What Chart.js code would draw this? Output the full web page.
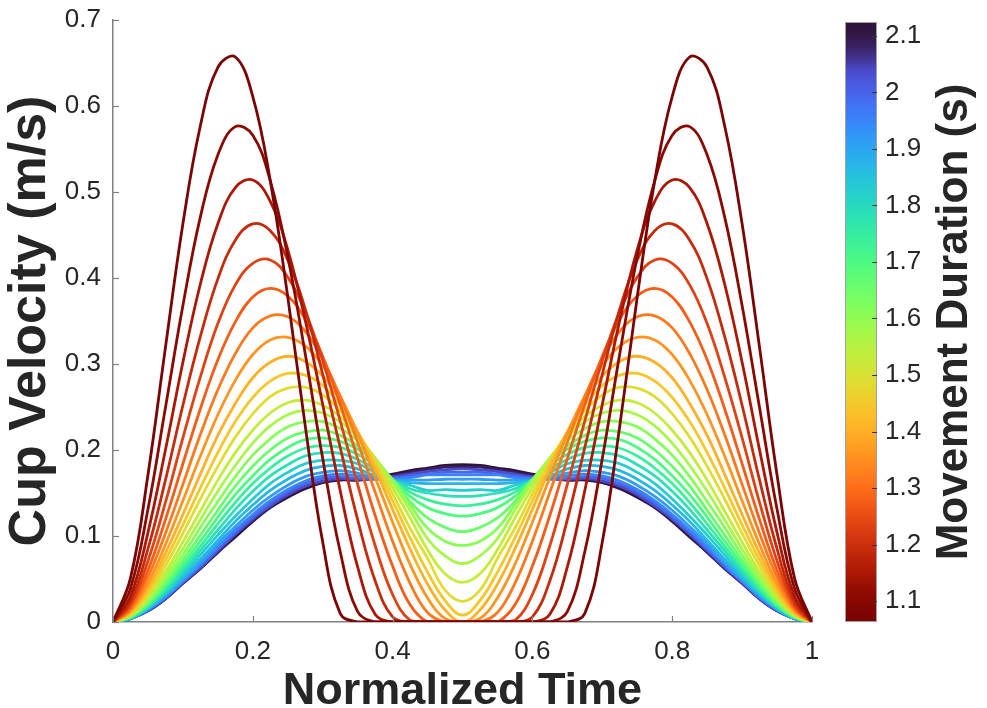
<!DOCTYPE html>
<html>
<head>
<meta charset="utf-8">
<title>Cup velocity profiles</title>
<script src="https://cdn.jsdelivr.net/npm/chart.js@4.4.1/dist/chart.umd.min.js"></script>
<style>
  html, body { margin: 0; padding: 0; background: #fff; }
  #wrap { width: 987px; height: 708px; position: relative; }
</style>
</head>
<body>
<div id="wrap"><canvas id="chart"></canvas></div>
<script>
// normalized time samples shared by every curve
const timeGrid = [0, 0.025, 0.05, 0.075, 0.1, 0.125, 0.15, 0.175, 0.2, 0.225, 0.25, 0.275, 0.3, 0.325, 0.35, 0.375, 0.4, 0.425, 0.45, 0.475, 0.5,
  0.525, 0.55, 0.575, 0.6, 0.625, 0.65, 0.675, 0.7, 0.725, 0.75, 0.775, 0.8, 0.825, 0.85, 0.875, 0.9, 0.925, 0.95, 0.975, 1];

// movement duration (s) of each curve, shortest first
const durations = [1.063, 1.106, 1.148, 1.191, 1.233, 1.276, 1.319, 1.361, 1.404, 1.446, 1.489, 1.532, 1.574,
  1.617, 1.659, 1.702, 1.745, 1.787, 1.830, 1.872, 1.915, 1.958, 2.000, 2.043, 2.085, 2.128];

// cup velocity (m/s), one array per duration
const v1063 = [0,.051,.171,.319,.463,.577,.645,.657,.611,.513,.378,.228,.093,.010,0,0,0,0,0,0,0,0,0,0,0,0,0,.010,.093,.228,.378,.513,.611,.657,.645,.577,.463,.319,.171,.051,0];
const v1106 = [0,.039,.131,.249,.368,.471,.543,.576,.566,.513,.425,.312,.190,.082,.012,0,0,0,0,0,0,0,0,0,0,0,.012,.082,.190,.312,.425,.513,.566,.576,.543,.471,.368,.249,.131,.039,0];
const v1148 = [0,.030,.104,.200,.302,.393,.463,.505,.514,.489,.433,.351,.253,.153,.064,.009,0,0,0,0,0,0,0,0,0,.009,.064,.153,.253,.351,.433,.489,.514,.505,.463,.393,.302,.200,.104,.030,0];
const v1191 = [0,.024,.085,.165,.252,.332,.399,.444,.463,.455,.421,.364,.288,.203,.119,.048,.006,0,0,0,0,0,0,0,.006,.048,.119,.203,.288,.364,.421,.455,.463,.444,.399,.332,.252,.165,.085,.024,0];
const v1233 = [0,.020,.071,.139,.214,.285,.347,.392,.417,.421,.401,.361,.304,.234,.160,.089,.032,.002,0,0,0,0,0,.002,.032,.089,.160,.234,.304,.361,.401,.421,.417,.392,.347,.285,.214,.139,.071,.020,0];
const v1276 = [0,.017,.060,.119,.184,.248,.305,.349,.378,.388,.379,.352,.309,.253,.190,.124,.065,.020,0,0,0,0,0,.020,.065,.124,.190,.253,.309,.352,.379,.388,.378,.349,.305,.248,.184,.119,.060,.017,0];
const v1319 = [0,.015,.052,.103,.160,.218,.270,.312,.342,.356,.355,.338,.306,.262,.209,.151,.094,.045,.011,0,0,0,.011,.045,.094,.151,.209,.262,.306,.338,.355,.356,.342,.312,.270,.218,.160,.103,.052,.015,0];
const v1361 = [0,.013,.045,.090,.141,.193,.241,.281,.311,.328,.331,.321,.298,.263,.219,.168,.116,.067,.028,.004,0,.004,.028,.067,.116,.168,.219,.263,.298,.321,.331,.328,.311,.281,.241,.193,.141,.090,.045,.013,0];
const v1404 = [0,.012,.040,.080,.125,.172,.217,.254,.284,.302,.309,.303,.286,.258,.221,.178,.131,.085,.044,.014,0,.014,.044,.085,.131,.178,.221,.258,.286,.303,.309,.302,.284,.254,.217,.172,.125,.080,.040,.012,0];
const v1446 = [0,.010,.036,.072,.113,.156,.197,.233,.261,.280,.289,.287,.275,.252,.221,.183,.141,.098,.058,.025,.008,.025,.058,.098,.141,.183,.221,.252,.275,.287,.289,.280,.261,.233,.197,.156,.113,.072,.036,.010,0];
const v1489 = [0,.009,.032,.065,.103,.143,.181,.215,.242,.262,.272,.273,.264,.246,.220,.187,.149,.109,.074,.037,.024,.037,.074,.109,.149,.187,.220,.246,.264,.273,.272,.262,.242,.215,.181,.143,.103,.065,.032,.009,0];
const v1532 = [0,.008,.029,.058,.093,.129,.165,.197,.223,.243,.255,.258,.252,.239,.217,.189,.156,.121,.084,.056,.046,.056,.084,.121,.156,.189,.217,.239,.252,.258,.255,.243,.223,.197,.165,.129,.093,.058,.029,.008,0];
const v1574 = [0,.007,.026,.053,.085,.119,.152,.182,.208,.228,.241,.246,.243,.233,.215,.191,.162,.130,.097,.077,.068,.077,.097,.130,.162,.191,.215,.233,.243,.246,.241,.228,.208,.182,.152,.119,.085,.053,.026,.007,0];
const v1617 = [0,.007,.024,.049,.078,.110,.140,.169,.194,.213,.227,.233,.233,.225,.211,.190,.165,.136,.109,.094,.089,.094,.109,.136,.165,.190,.211,.225,.233,.233,.227,.213,.194,.169,.140,.110,.078,.049,.024,.007,0];
const v1659 = [0,.006,.022,.045,.072,.101,.130,.158,.181,.200,.214,.221,.223,.217,.205,.188,.165,.140,.121,.110,.105,.110,.121,.140,.165,.188,.205,.217,.223,.221,.214,.200,.181,.158,.130,.101,.072,.045,.022,.006,0];
const v1702 = [0,.006,.020,.042,.067,.094,.122,.148,.170,.189,.203,.212,.214,.210,.201,.186,.166,.146,.133,.126,.123,.126,.133,.146,.166,.186,.201,.210,.214,.212,.203,.189,.170,.148,.122,.094,.067,.042,.020,.006,0];
const v1745 = [0,.005,.019,.039,.063,.088,.114,.139,.161,.179,.193,.202,.205,.203,.195,.182,.165,.151,.142,.137,.135,.137,.142,.151,.165,.182,.195,.203,.205,.202,.193,.179,.161,.139,.114,.088,.063,.039,.019,.005,0];
const v1787 = [0,.005,.018,.036,.059,.083,.107,.131,.152,.170,.183,.193,.197,.196,.189,.178,.165,.155,.150,.147,.146,.147,.150,.155,.165,.178,.189,.196,.197,.193,.183,.170,.152,.131,.107,.083,.059,.036,.018,.005,0];
const v1830 = [0,.005,.016,.034,.055,.078,.101,.123,.143,.161,.174,.184,.188,.188,.184,.174,.164,.159,.153,.154,.153,.154,.153,.159,.164,.174,.184,.188,.188,.184,.174,.161,.143,.123,.101,.078,.055,.034,.016,.005,0];
const v1872 = [0,.004,.016,.032,.052,.073,.095,.117,.136,.153,.166,.176,.181,.182,.178,.170,.165,.162,.161,.161,.161,.161,.161,.162,.165,.170,.178,.182,.181,.176,.166,.153,.136,.117,.095,.073,.052,.032,.016,.004,0];
const v1915 = [0,.004,.015,.030,.049,.069,.091,.111,.130,.146,.159,.169,.174,.176,.173,.168,.165,.165,.165,.166,.166,.166,.165,.165,.165,.168,.173,.176,.174,.169,.159,.146,.130,.111,.091,.069,.049,.030,.015,.004,0];
const v1958 = [0,.004,.014,.029,.047,.067,.087,.107,.125,.141,.154,.164,.170,.172,.170,.167,.167,.168,.171,.171,.171,.171,.171,.168,.167,.167,.170,.172,.170,.164,.154,.141,.125,.107,.087,.067,.047,.029,.014,.004,0];
const v2000 = [0,.004,.014,.028,.047,.065,.085,.104,.122,.138,.151,.161,.167,.169,.167,.166,.167,.170,.172,.174,.174,.174,.172,.170,.167,.166,.167,.169,.167,.161,.151,.138,.122,.104,.085,.065,.047,.028,.014,.004,0];
const v2043 = [0,.004,.013,.027,.046,.063,.083,.102,.120,.135,.148,.158,.164,.167,.166,.167,.169,.172,.175,.177,.178,.177,.175,.172,.169,.167,.166,.167,.164,.158,.148,.135,.120,.102,.083,.063,.046,.027,.013,.004,0];
const v2085 = [0,.004,.013,.027,.045,.063,.082,.101,.118,.134,.147,.157,.163,.166,.165,.167,.170,.174,.177,.180,.180,.180,.177,.174,.170,.167,.165,.166,.163,.157,.147,.134,.118,.101,.082,.063,.045,.027,.013,.004,0];
const v2128 = [0,.004,.013,.027,.045,.062,.081,.099,.117,.133,.145,.155,.162,.165,.165,.168,.172,.176,.179,.182,.183,.182,.179,.176,.172,.168,.165,.165,.162,.155,.145,.133,.117,.099,.081,.062,.045,.027,.013,.004,0];

const velocities = [v1063, v1106, v1148, v1191, v1233, v1276, v1319, v1361, v1404, v1446, v1489, v1532, v1574,
  v1617, v1659, v1702, v1745, v1787, v1830, v1872, v1915, v1958, v2000, v2043, v2085, v2128];

// axis ticks
const xTicks = [0, 0.2, 0.4, 0.6, 0.8, 1];
const yTicks = [0, 0.1, 0.2, 0.3, 0.4, 0.5, 0.6, 0.7];
const cbTicks = [1.1, 1.2, 1.3, 1.4, 1.5, 1.6, 1.7, 1.8, 1.9, 2, 2.1];
const cbMin = 1.063, cbMax = 2.128;

// turbo colormap (polynomial fit), ends pulled to the true end colours
function turbo(t) {
  t = Math.min(1, Math.max(0, t));
  let r = 0.13572138 + t * (4.61539260 + t * (-42.66032258 + t * (132.13108234 + t * (-152.94239396 + t * 59.28637943))));
  let g = 0.09140261 + t * (2.19418839 + t * (4.84296658 + t * (-14.18503333 + t * (4.27729857 + t * 2.82956604))));
  let b = 0.10667330 + t * (12.64194608 + t * (-60.58204836 + t * (110.36276771 + t * (-89.90310912 + t * 27.34824973))));
  const w0 = Math.max(0, 1 - t / 0.08), w1 = Math.max(0, 1 - (1 - t) / 0.08);
  r = r * (1 - w0 - w1) + 0.190 * w0 + 0.480 * w1;
  g = g * (1 - w0 - w1) + 0.072 * w0 + 0.016 * w1;
  b = b * (1 - w0 - w1) + 0.232 * w0 + 0.011 * w1;
  const c = v => Math.round(255 * Math.min(1, Math.max(0, v)));
  return `rgb(${c(r)},${c(g)},${c(b)})`;
}
// short durations are dark red, long ones dark blue
const durationColor = d => turbo(1 - (d - cbMin) / (cbMax - cbMin));

const textColor = '#262626';
const axisColor = '#808080';
const fontFamily = '"Liberation Sans", Arial, Helvetica, sans-serif';
const fmt = v => String(+v.toFixed(2));
// keep tick-label padding from pushing the plot area down
const noVertPad = s => { s.paddingTop = 0; s.paddingBottom = 0; };

const datasets = velocities.map((vals, i) => ({
  label: durations[i] + ' s',
  data: timeGrid.map((t, k) => ({ x: t, y: vals[k] })),
  borderColor: durationColor(durations[i]),
  borderWidth: 2.8,
  pointRadius: 0,
  fill: false,
  tension: 0.4
}));

// inward tick marks, colour bar and its title
const decor = {
  id: 'decor',
  afterDraw(chart) {
    const { ctx, chartArea: a, scales } = chart;
    ctx.save();
    ctx.strokeStyle = axisColor;
    ctx.lineWidth = 1.2;
    scales.y.ticks.forEach(t => {
      const py = Math.round(scales.y.getPixelForValue(t.value)) + 0.5;
      ctx.beginPath(); ctx.moveTo(a.left, py); ctx.lineTo(a.left + 6, py); ctx.stroke();
    });
    scales.x.ticks.forEach(t => {
      const px = Math.round(scales.x.getPixelForValue(t.value)) + 0.5;
      ctx.beginPath(); ctx.moveTo(px, a.bottom); ctx.lineTo(px, a.bottom - 6); ctx.stroke();
    });

    const cb = scales.cb;
    const x0 = cb.left + 33, w = 32;
    const top = cb.getPixelForValue(cbMax) + 2, bot = cb.getPixelForValue(cbMin);
    const grad = ctx.createLinearGradient(0, bot, 0, top);
    for (let s = 0; s <= 50; s++) grad.addColorStop(s / 50, turbo(1 - s / 50));
    ctx.fillStyle = grad;
    ctx.fillRect(x0, top, w, bot - top);
    ctx.strokeStyle = '#a0a0a0';
    ctx.lineWidth = 1;
    ctx.strokeRect(x0 + 0.5, top + 0.5, w - 1, bot - top - 1);
    ctx.strokeStyle = '#333';
    cb.ticks.forEach(t => {
      const py = Math.round(cb.getPixelForValue(t.value)) + 0.5;
      ctx.beginPath(); ctx.moveTo(x0 + w, py); ctx.lineTo(x0 + w - 5, py); ctx.stroke();
    });

    ctx.translate(955, (top + bot) / 2);
    ctx.rotate(-Math.PI / 2);
    ctx.fillStyle = textColor;
    ctx.font = 'bold 44px ' + fontFamily;
    ctx.textAlign = 'center';
    ctx.textBaseline = 'middle';
    ctx.fillText('Movement Duration (s)', 0, 0);
    ctx.restore();
  }
};

new Chart(document.getElementById('chart'), {
  type: 'line',
  data: { datasets },
  plugins: [decor],
  options: {
    responsive: true,
    maintainAspectRatio: false,
    animation: false,
    devicePixelRatio: 1,
    layout: { autoPadding: false, padding: { top: 20, left: 0, right: 0, bottom: 0 } },
    plugins: { legend: { display: false }, tooltip: { enabled: false } },
    scales: {
      x: {
        type: 'linear',
        min: 0, max: 1,
        afterBuildTicks: s => { s.ticks = xTicks.map(v => ({ value: v })); },
        afterFit: s => { s.height = 86; },
        grid: { display: false, drawTicks: false },
        border: { display: true, color: axisColor, width: 1.5 },
        ticks: { color: textColor, font: { family: fontFamily, size: 26 }, padding: 14, callback: fmt, maxRotation: 0 },
        title: { display: true, text: 'Normalized Time', color: textColor,
          font: { family: fontFamily, size: 45, weight: 'bold', lineHeight: 1 }, padding: { top: 0, bottom: -6 } }
      },
      y: {
        type: 'linear',
        min: 0, max: 0.7,
        afterBuildTicks: s => { s.ticks = yTicks.map(v => ({ value: v })); },
        afterFit: s => { s.width = 113; noVertPad(s); },
        grid: { display: false, drawTicks: false },
        border: { display: true, color: axisColor, width: 1.5 },
        ticks: { color: textColor, font: { family: fontFamily, size: 26 }, padding: 12, callback: fmt },
        title: { display: true, text: 'Cup Velocity (m/s)', color: textColor,
          font: { family: fontFamily, size: 52, weight: 'bold', lineHeight: 1 }, padding: { top: 5, bottom: 0 } }
      },
      cb: {
        type: 'linear',
        position: 'right',
        min: cbMin, max: cbMax,
        afterBuildTicks: s => { s.ticks = cbTicks.map(v => ({ value: v })); },
        afterFit: s => { s.width = 175; noVertPad(s); },
        grid: { display: false, drawTicks: false },
        border: { display: false },
        ticks: { color: textColor, font: { family: fontFamily, size: 26 }, padding: 73, callback: fmt }
      }
    }
  }
});
</script>
</body>
</html>
